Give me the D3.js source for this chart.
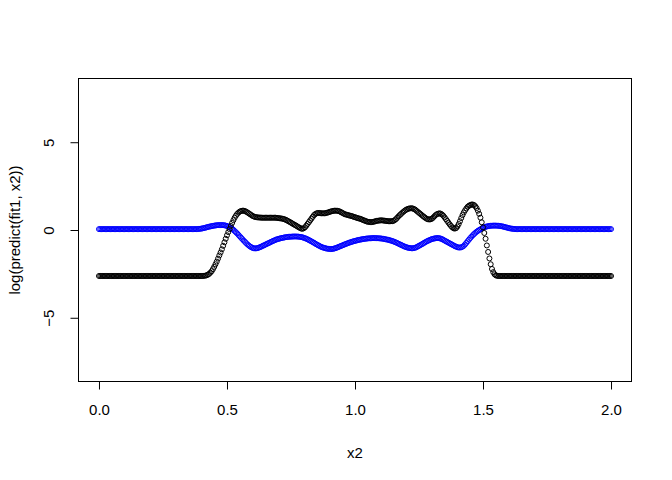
<!DOCTYPE html>
<html>
<head>
<meta charset="utf-8">
<script src="https://cdn.jsdelivr.net/npm/d3@7"></script>
<style>
  html, body { margin: 0; padding: 0; background: #fff; }
  svg { display: block; }
  text { font-family: "Liberation Sans", Arial, sans-serif; fill: #000; }
</style>
</head>
<body>
<script>
// ---- data ----
const x2 = [
  0.000,0.005,0.010,0.015,0.020,0.025,0.030,0.035,0.040,0.045,
  0.050,0.055,0.060,0.065,0.070,0.075,0.080,0.085,0.090,0.095,
  0.100,0.105,0.110,0.115,0.120,0.125,0.130,0.135,0.140,0.145,
  0.150,0.155,0.160,0.165,0.170,0.175,0.180,0.185,0.190,0.195,
  0.200,0.205,0.210,0.215,0.220,0.225,0.230,0.235,0.240,0.245,
  0.250,0.255,0.260,0.265,0.270,0.275,0.280,0.285,0.290,0.295,
  0.300,0.305,0.310,0.315,0.320,0.325,0.330,0.335,0.340,0.345,
  0.350,0.355,0.360,0.365,0.370,0.375,0.380,0.385,0.390,0.395,
  0.400,0.405,0.410,0.415,0.420,0.425,0.430,0.435,0.440,0.445,
  0.450,0.455,0.460,0.465,0.470,0.475,0.480,0.485,0.490,0.495,
  0.500,0.505,0.510,0.515,0.520,0.525,0.530,0.535,0.540,0.545,
  0.550,0.555,0.560,0.565,0.570,0.575,0.580,0.585,0.590,0.595,
  0.600,0.605,0.610,0.615,0.620,0.625,0.630,0.635,0.640,0.645,
  0.650,0.655,0.660,0.665,0.670,0.675,0.680,0.685,0.690,0.695,
  0.700,0.705,0.710,0.715,0.720,0.725,0.730,0.735,0.740,0.745,
  0.750,0.755,0.760,0.765,0.770,0.775,0.780,0.785,0.790,0.795,
  0.800,0.805,0.810,0.815,0.820,0.825,0.830,0.835,0.840,0.845,
  0.850,0.855,0.860,0.865,0.870,0.875,0.880,0.885,0.890,0.895,
  0.900,0.905,0.910,0.915,0.920,0.925,0.930,0.935,0.940,0.945,
  0.950,0.955,0.960,0.965,0.970,0.975,0.980,0.985,0.990,0.995,
  1.000,1.005,1.010,1.015,1.020,1.025,1.030,1.035,1.040,1.045,
  1.050,1.055,1.060,1.065,1.070,1.075,1.080,1.085,1.090,1.095,
  1.100,1.105,1.110,1.115,1.120,1.125,1.130,1.135,1.140,1.145,
  1.150,1.155,1.160,1.165,1.170,1.175,1.180,1.185,1.190,1.195,
  1.200,1.205,1.210,1.215,1.220,1.225,1.230,1.235,1.240,1.245,
  1.250,1.255,1.260,1.265,1.270,1.275,1.280,1.285,1.290,1.295,
  1.300,1.305,1.310,1.315,1.320,1.325,1.330,1.335,1.340,1.345,
  1.350,1.355,1.360,1.365,1.370,1.375,1.380,1.385,1.390,1.395,
  1.400,1.405,1.410,1.415,1.420,1.425,1.430,1.435,1.440,1.445,
  1.450,1.455,1.460,1.465,1.470,1.475,1.480,1.485,1.490,1.495,
  1.500,1.505,1.510,1.515,1.520,1.525,1.530,1.535,1.540,1.545,
  1.550,1.555,1.560,1.565,1.570,1.575,1.580,1.585,1.590,1.595,
  1.600,1.605,1.610,1.615,1.620,1.625,1.630,1.635,1.640,1.645,
  1.650,1.655,1.660,1.665,1.670,1.675,1.680,1.685,1.690,1.695,
  1.700,1.705,1.710,1.715,1.720,1.725,1.730,1.735,1.740,1.745,
  1.750,1.755,1.760,1.765,1.770,1.775,1.780,1.785,1.790,1.795,
  1.800,1.805,1.810,1.815,1.820,1.825,1.830,1.835,1.840,1.845,
  1.850,1.855,1.860,1.865,1.870,1.875,1.880,1.885,1.890,1.895,
  1.900,1.905,1.910,1.915,1.920,1.925,1.930,1.935,1.940,1.945,
  1.950,1.955,1.960,1.965,1.970,1.975,1.980,1.985,1.990,1.995,
  2.000
];

// log(predict(fit1, x2)) -- black points
const logPredFit1 = [
  -2.62,-2.62,-2.62,-2.62,-2.62,-2.62,-2.62,-2.62,-2.62,-2.62,
  -2.62,-2.62,-2.62,-2.62,-2.62,-2.62,-2.62,-2.62,-2.62,-2.62,
  -2.62,-2.62,-2.62,-2.62,-2.62,-2.62,-2.62,-2.62,-2.62,-2.62,
  -2.62,-2.62,-2.62,-2.62,-2.62,-2.62,-2.62,-2.62,-2.62,-2.62,
  -2.62,-2.62,-2.62,-2.62,-2.62,-2.62,-2.62,-2.62,-2.62,-2.62,
  -2.62,-2.62,-2.62,-2.62,-2.62,-2.62,-2.62,-2.62,-2.62,-2.62,
  -2.62,-2.62,-2.62,-2.62,-2.62,-2.62,-2.62,-2.62,-2.62,-2.62,
  -2.62,-2.62,-2.62,-2.62,-2.62,-2.62,-2.62,-2.62,-2.62,-2.62,
  -2.62,-2.62,-2.61,-2.6,-2.58,-2.55,-2.5,-2.43,-2.35,-2.23,
  -2.1,-1.95,-1.8,-1.63,-1.45,-1.28,-1.1,-0.9,-0.7,-0.5,
  -0.3,-0.12,0.05,0.23,0.4,0.56,0.7,0.82,0.92,0.99,
  1.05,1.08,1.1,1.1,1.08,1.04,1.0,0.95,0.9,0.85,
  0.8,0.77,0.74,0.73,0.72,0.71,0.71,0.7,0.7,0.7,
  0.7,0.7,0.7,0.7,0.7,0.7,0.7,0.7,0.7,0.69,
  0.68,0.67,0.66,0.65,0.63,0.61,0.58,0.54,0.5,0.46,
  0.42,0.37,0.33,0.29,0.25,0.2,0.16,0.12,0.08,0.07,
  0.1,0.16,0.25,0.35,0.45,0.55,0.65,0.75,0.85,0.91,
  0.95,0.97,0.97,0.96,0.95,0.95,0.95,0.96,0.98,1.0,
  1.03,1.05,1.07,1.09,1.1,1.1,1.1,1.08,1.06,1.02,
  0.98,0.94,0.9,0.88,0.86,0.84,0.82,0.8,0.78,0.75,
  0.73,0.7,0.68,0.66,0.64,0.61,0.58,0.55,0.52,0.49,
  0.47,0.46,0.45,0.45,0.46,0.48,0.5,0.52,0.53,0.54,
  0.55,0.55,0.54,0.53,0.52,0.51,0.5,0.5,0.5,0.5,
  0.52,0.56,0.62,0.7,0.78,0.85,0.92,0.99,1.05,1.11,
  1.16,1.19,1.22,1.23,1.24,1.23,1.2,1.16,1.1,1.04,
  0.98,0.92,0.86,0.8,0.74,0.69,0.64,0.61,0.6,0.61,
  0.64,0.7,0.78,0.85,0.9,0.93,0.95,0.93,0.88,0.81,
  0.72,0.62,0.52,0.42,0.32,0.23,0.15,0.1,0.08,0.11,
  0.2,0.34,0.5,0.68,0.85,1.0,1.12,1.23,1.32,1.38,
  1.42,1.45,1.45,1.42,1.35,1.25,1.1,0.92,0.7,0.44,
  0.15,-0.17,-0.5,-0.88,-1.25,-1.62,-1.95,-2.22,-2.4,-2.52,
  -2.58,-2.61,-2.62,-2.62,-2.62,-2.62,-2.62,-2.62,-2.62,-2.62,
  -2.62,-2.62,-2.62,-2.62,-2.62,-2.62,-2.62,-2.62,-2.62,-2.62,
  -2.62,-2.62,-2.62,-2.62,-2.62,-2.62,-2.62,-2.62,-2.62,-2.62,
  -2.62,-2.62,-2.62,-2.62,-2.62,-2.62,-2.62,-2.62,-2.62,-2.62,
  -2.62,-2.62,-2.62,-2.62,-2.62,-2.62,-2.62,-2.62,-2.62,-2.62,
  -2.62,-2.62,-2.62,-2.62,-2.62,-2.62,-2.62,-2.62,-2.62,-2.62,
  -2.62,-2.62,-2.62,-2.62,-2.62,-2.62,-2.62,-2.62,-2.62,-2.62,
  -2.62,-2.62,-2.62,-2.62,-2.62,-2.62,-2.62,-2.62,-2.62,-2.62,
  -2.62,-2.62,-2.62,-2.62,-2.62,-2.62,-2.62,-2.62,-2.62,-2.62,
  -2.62
];

// second series -- blue points
const blueSeries = [
  0.05,0.05,0.05,0.05,0.05,0.05,0.05,0.05,0.05,0.05,
  0.05,0.05,0.05,0.05,0.05,0.05,0.05,0.05,0.05,0.05,
  0.05,0.05,0.05,0.05,0.05,0.05,0.05,0.05,0.05,0.05,
  0.05,0.05,0.05,0.05,0.05,0.05,0.05,0.05,0.05,0.05,
  0.05,0.05,0.05,0.05,0.05,0.05,0.05,0.05,0.05,0.05,
  0.05,0.05,0.05,0.05,0.05,0.05,0.05,0.05,0.05,0.05,
  0.05,0.05,0.05,0.05,0.05,0.05,0.05,0.05,0.05,0.05,
  0.05,0.05,0.05,0.05,0.05,0.05,0.05,0.055,0.06,0.07,
  0.08,0.095,0.11,0.13,0.15,0.17,0.19,0.205,0.22,0.235,
  0.25,0.26,0.27,0.275,0.28,0.28,0.28,0.275,0.27,0.25,
  0.23,0.2,0.16,0.12,0.07,0.01,-0.06,-0.13,-0.2,-0.28,
  -0.36,-0.44,-0.52,-0.6,-0.67,-0.75,-0.82,-0.88,-0.94,-0.98,
  -1.02,-1.04,-1.05,-1.04,-1.03,-1.0,-0.97,-0.94,-0.9,-0.87,
  -0.83,-0.8,-0.76,-0.73,-0.69,-0.66,-0.62,-0.59,-0.56,-0.53,
  -0.51,-0.49,-0.47,-0.45,-0.44,-0.42,-0.41,-0.4,-0.39,-0.385,
  -0.38,-0.375,-0.37,-0.37,-0.37,-0.375,-0.38,-0.39,-0.4,-0.42,
  -0.44,-0.47,-0.5,-0.53,-0.57,-0.61,-0.65,-0.69,-0.73,-0.78,
  -0.82,-0.86,-0.9,-0.94,-0.97,-1.0,-1.02,-1.04,-1.06,-1.07,
  -1.08,-1.085,-1.08,-1.07,-1.05,-1.03,-1.0,-0.97,-0.94,-0.91,
  -0.88,-0.85,-0.82,-0.79,-0.76,-0.735,-0.71,-0.685,-0.66,-0.64,
  -0.62,-0.6,-0.58,-0.565,-0.55,-0.535,-0.52,-0.51,-0.5,-0.49,
  -0.48,-0.475,-0.47,-0.465,-0.46,-0.46,-0.46,-0.465,-0.47,-0.475,
  -0.48,-0.49,-0.5,-0.515,-0.53,-0.545,-0.56,-0.58,-0.6,-0.625,
  -0.65,-0.68,-0.71,-0.745,-0.78,-0.815,-0.85,-0.885,-0.92,-0.95,
  -0.98,-1.0,-1.02,-1.03,-1.04,-1.04,-1.03,-1.01,-0.98,-0.94,
  -0.9,-0.86,-0.82,-0.78,-0.73,-0.69,-0.65,-0.615,-0.58,-0.55,
  -0.52,-0.5,-0.48,-0.47,-0.46,-0.46,-0.47,-0.49,-0.52,-0.56,
  -0.6,-0.64,-0.68,-0.72,-0.76,-0.8,-0.84,-0.88,-0.92,-0.95,
  -0.98,-0.995,-1.0,-0.985,-0.95,-0.9,-0.82,-0.73,-0.64,-0.55,
  -0.46,-0.38,-0.3,-0.23,-0.16,-0.1,-0.05,0.0,0.04,0.08,
  0.12,0.15,0.18,0.2,0.22,0.23,0.24,0.245,0.25,0.25,
  0.25,0.245,0.24,0.23,0.22,0.205,0.19,0.17,0.15,0.13,
  0.11,0.095,0.08,0.07,0.06,0.055,0.05,0.05,0.05,0.05,
  0.05,0.05,0.05,0.05,0.05,0.05,0.05,0.05,0.05,0.05,
  0.05,0.05,0.05,0.05,0.05,0.05,0.05,0.05,0.05,0.05,
  0.05,0.05,0.05,0.05,0.05,0.05,0.05,0.05,0.05,0.05,
  0.05,0.05,0.05,0.05,0.05,0.05,0.05,0.05,0.05,0.05,
  0.05,0.05,0.05,0.05,0.05,0.05,0.05,0.05,0.05,0.05,
  0.05,0.05,0.05,0.05,0.05,0.05,0.05,0.05,0.05,0.05,
  0.05,0.05,0.05,0.05,0.05,0.05,0.05,0.05,0.05,0.05,
  0.05
];

const xTicks = [0.0, 0.5, 1.0, 1.5, 2.0];
const yTicks = [-5, 0, 5];
const xLabel = "x2";
const yLabel = "log(predict(fit1, x2))";

// ---- layout ----
const W = 672, H = 480;
const L = 78.5, R = 631.5, T = 78.5, B = 381.5;
const fontSize = 15;

const svg = d3.select("body").append("svg")
  .attr("width", W).attr("height", H);

const x = d3.scaleLinear().domain([-0.08, 2.08]).range([L, R]);
const y = d3.scaleLinear().domain([-8.63, 8.63]).range([B, T]);

const n = Math.min(x2.length, logPredFit1.length, blueSeries.length);
const blueData = d3.range(n).map(i => [x2[i], blueSeries[i]]);
const blackData = d3.range(n).map(i => [x2[i], logPredFit1[i]]);

// points: blue first, black on top
svg.append("g").selectAll("circle").data(blueData).join("circle")
  .attr("cx", d => x(d[0])).attr("cy", d => y(d[1])).attr("r", 2.5)
  .attr("fill", "none").attr("stroke", "#0000ff").attr("stroke-width", 1);

svg.append("g").selectAll("circle").data(blackData).join("circle")
  .attr("cx", d => x(d[0])).attr("cy", d => y(d[1])).attr("r", 2.5)
  .attr("fill", "none").attr("stroke", "#000").attr("stroke-width", 1);

// box
svg.append("rect")
  .attr("x", L).attr("y", T).attr("width", R - L).attr("height", B - T)
  .attr("fill", "none").attr("stroke", "#000").attr("stroke-width", 1);

// x axis
const gx = svg.append("g").attr("transform", `translate(0,${B})`)
  .call(d3.axisBottom(x).tickValues(xTicks).tickFormat(d3.format(".1f"))
    .tickSize(8).tickSizeOuter(0).tickPadding(15));
gx.select(".domain").remove();
gx.selectAll(".tick line").attr("stroke", "#000");
gx.selectAll(".tick text")
  .attr("font-size", fontSize)
  .attr("font-family", "Liberation Sans, Arial, sans-serif")
  .attr("fill", "#000");

// y axis
const gy = svg.append("g").attr("transform", `translate(${L},0)`)
  .call(d3.axisLeft(y).tickValues(yTicks).tickFormat(d3.format("d"))
    .tickSize(8).tickSizeOuter(0));
gy.select(".domain").remove();
gy.selectAll(".tick line").attr("stroke", "#000");
gy.selectAll(".tick text")
  .attr("font-size", fontSize)
  .attr("font-family", "Liberation Sans, Arial, sans-serif")
  .attr("fill", "#000")
  .attr("text-anchor", "middle")
  .attr("dy", null)
  .attr("dominant-baseline", "central")
  .attr("x", null)
  .attr("transform", "translate(-30,0) rotate(-90)");

// axis titles
svg.append("text")
  .attr("x", (L + R) / 2).attr("y", 452)
  .attr("text-anchor", "middle").attr("dominant-baseline", "central")
  .attr("font-size", fontSize)
  .text(xLabel);

svg.append("text")
  .attr("transform", `translate(14,${(T + B) / 2}) rotate(-90)`)
  .attr("text-anchor", "middle").attr("dominant-baseline", "central")
  .attr("font-size", fontSize)
  .text(yLabel);
</script>
</body>
</html>
